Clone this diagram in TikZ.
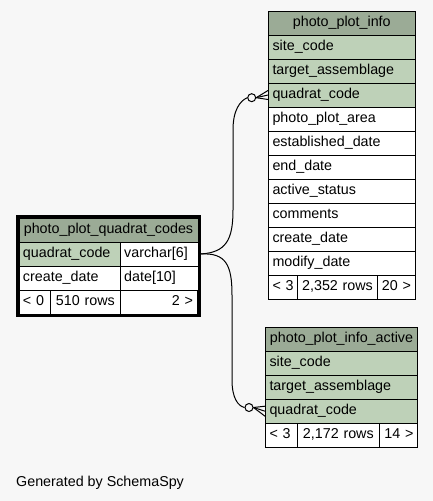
\documentclass[tikz,border=0pt]{standalone}
\usepackage{fontspec}
\newfontfamily\tabfont{Liberation Sans}
\definecolor{bgc}{HTML}{F7F7F7}
\definecolor{hdrc}{HTML}{9BAB96}
\definecolor{keyc}{HTML}{BED1B8}
\tikzset{
  cell/.style={draw=black, line width=1pt, anchor=north west, minimum height=24pt,
    inner xsep=4pt, inner ysep=0pt, text height=10.5pt, text depth=3pt,
    font={\tabfont\fontsize{14.3pt}{17pt}\selectfont}},
  hdr/.style={cell, fill=hdrc},
  keyrow/.style={cell, fill=keyc},
  plain/.style={cell, fill=white},
  edge/.style={draw=black, line width=1pt},
  odot/.style={circle, draw=black, line width=1pt, fill=bgc, inner sep=0pt, minimum size=8pt},
}
\newcommand\mkcell[7]{\node[#1, text width=#5pt, align=#6] (#2) at (#3,#4) {\mbox{#7}};}
\begin{document}
\begin{tikzpicture}[x=1pt,y=-1pt]
\fill[bgc] (0,0) rectangle (433,501);
\useasboundingbox (0,0) rectangle (433,501);

% photo_plot_info
\mkcell{hdr}{pi-h}{268}{10.5}{138.5}{center}{photo\_plot\_info}
\mkcell{keyrow}{pi-1}{268}{34.5}{138.5}{left}{site\_code}
\mkcell{keyrow}{pi-2}{268}{58.5}{138.5}{left}{target\_assemblage}
\mkcell{keyrow}{pi-3}{268}{82.5}{138.5}{left}{quadrat\_code}
\mkcell{plain}{pi-4}{268}{106.5}{138.5}{left}{photo\_plot\_area}
\mkcell{plain}{pi-5}{268}{130.5}{138.5}{left}{established\_date}
\mkcell{plain}{pi-6}{268}{154.5}{138.5}{left}{end\_date}
\mkcell{plain}{pi-7}{268}{178.5}{138.5}{left}{active\_status}
\mkcell{plain}{pi-8}{268}{202.5}{138.5}{left}{comments}
\mkcell{plain}{pi-9}{268}{226.5}{138.5}{left}{create\_date}
\mkcell{plain}{pi-10}{268}{250.5}{138.5}{left}{modify\_date}
\mkcell{plain}{pi-f1}{268}{274.5}{21}{left}{<~3}
\mkcell{plain}{pi-f2}{297}{274.5}{72}{center}{2,352 rows}
\mkcell{plain}{pi-f3}{377}{274.5}{29.5}{right}{20 >}

% photo_plot_info_active
\mkcell{hdr}{pa-h}{265}{326.7}{144}{center}{photo\_plot\_info\_active}
\mkcell{keyrow}{pa-1}{265}{350.7}{144}{left}{site\_code}
\mkcell{keyrow}{pa-2}{265}{374.7}{144}{left}{target\_assemblage}
\mkcell{keyrow}{pa-3}{265}{398.7}{144}{left}{quadrat\_code}
\mkcell{plain}{pa-f1}{265}{422.7}{23.7}{left}{<~3}
\mkcell{plain}{pa-f2}{296.7}{422.7}{74.3}{center}{2,172 rows}
\mkcell{plain}{pa-f3}{379}{422.7}{30}{right}{14 >}

% photo_plot_quadrat_codes
\mkcell{hdr}{qc-h}{18.5}{217.5}{171}{center}{photo\_plot\_quadrat\_codes}
\mkcell{keyrow}{qc-q}{18.5}{241.5}{93.2}{left}{quadrat\_code}
\mkcell{plain}{qc-qt}{119.7}{241.5}{69.8}{left}{varchar[6]}
\mkcell{plain}{qc-c}{18.5}{265.5}{93.2}{left}{create\_date}
\mkcell{plain}{qc-ct}{119.7}{265.5}{69.8}{left}{date[10]}
\mkcell{plain}{qc-f1}{18.5}{289.5}{23.5}{left}{<~0}
\mkcell{plain}{qc-f2}{50}{289.5}{61.7}{center}{510 rows}
\mkcell{plain}{qc-f3}{119.7}{289.5}{68.8}{right}{2 >}
\node[draw=black, line width=3pt, minimum width=182pt, minimum height=99pt, inner sep=0pt] (qc) at (108,265.5) {};

% connectors
\node[odot] (o1) at (251.7,97.7) {};
\node[odot] (o2) at (249,407.5) {};
\coordinate (s) at (qc.east |- qc-qt.east);
\coordinate (t1) at (pi-3.west);
\coordinate (t2) at (pa-3.west);
\draw[edge] (s) .. controls (226,252.5) and (233,240) .. (233,210) -- (233,130)
  .. controls (233,110) and (240,101) .. (o1.west);
\draw[edge] (s) .. controls (226,252.5) and (232,265) .. (232,295) -- (232,380)
  .. controls (232,398) and (238,406) .. (o2.west);
\draw[edge] (o1.east) -- (t1);
\draw[edge] (o1.east) -- ([yshift=-4.5pt]t1);
\draw[edge] (o1.east) -- ([yshift=4.5pt]t1);
\draw[edge] (o2.east) -- (t2);
\draw[edge] (o2.east) -- ([yshift=-5pt]t2);
\draw[edge] (o2.east) -- ([yshift=5pt]t2);

\node[anchor=base west, inner sep=0pt, font={\tabfont\fontsize{14.3pt}{17pt}\selectfont}] (gen) at (16,486) {Generated by SchemaSpy};
\end{tikzpicture}
\end{document}
